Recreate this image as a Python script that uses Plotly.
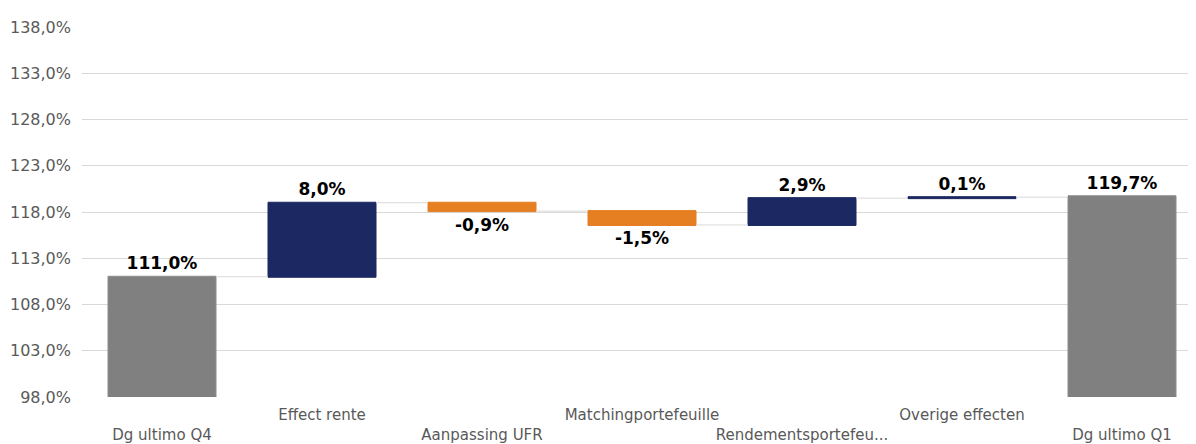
import plotly.graph_objects as go

categories = ["Dg ultimo Q4", "Effect rente", "Aanpassing UFR", "Matchingportefeuille",
              "Rendementsportefeu...", "Overige effecten", "Dg ultimo Q1"]
measures = ["absolute", "relative", "relative", "relative", "relative", "relative", "absolute"]
values = [111.0, 8.0, -0.9, -1.5, 2.9, 0.1, 119.7]
tick_vals = [98, 103, 108, 113, 118, 123, 128, 133, 138]

def fmt(v):
    return f"{v:.1f}".replace(".", ",") + "%"

labels = [fmt(v) for v in values]
tick_text = [fmt(v) for v in tick_vals]
ticktext = [c if i % 2 == 1 else "<br>" + c for i, c in enumerate(categories)]

fig = go.Figure(go.Waterfall(
    x=list(range(len(categories))),
    y=values,
    measure=measures,
    text=labels,
    textposition="outside",
    textfont=dict(family="DejaVu Sans", size=17, color="black", weight="bold"),
    cliponaxis=False,
    width=0.675,
    increasing=dict(marker=dict(color="#1B2861", line=dict(color="#1B2861", width=1))),
    decreasing=dict(marker=dict(color="#E67E22", line=dict(color="#E67E22", width=1))),
    totals=dict(marker=dict(color="#808080", line=dict(color="#8c8c8c", width=1))),
    connector=dict(line=dict(color="#d9d9d9", width=1), mode="between"),
    showlegend=False,
))

# body has an 8px default margin in the page; compensate in figure size
fig.update_layout(
    width=1188, height=436,
    margin=dict(l=74, r=0, t=19, b=47, autoexpand=False),
    paper_bgcolor="white", plot_bgcolor="white",
    font=dict(family="DejaVu Sans", size=15, color="#595959"),
    xaxis=dict(
        tickmode="array", tickvals=list(range(len(categories))), ticktext=ticktext,
        range=[-0.5, 6.4625], showgrid=False, zeroline=False, showline=False,
        tickfont=dict(size=15, color="#595959"), ticks="", ticklabelstandoff=7,
        tickangle=0, automargin=False,
    ),
    yaxis=dict(
        range=[98, 138], tickmode="array", tickvals=tick_vals, ticktext=tick_text,
        showgrid=True, gridcolor="#d9d9d9", gridwidth=1, zeroline=False,
        showline=False, tickfont=dict(size=16, color="#595959"), automargin=False,
        ticklabelstandoff=10,
    ),
)

fig.write_html("out.html")
